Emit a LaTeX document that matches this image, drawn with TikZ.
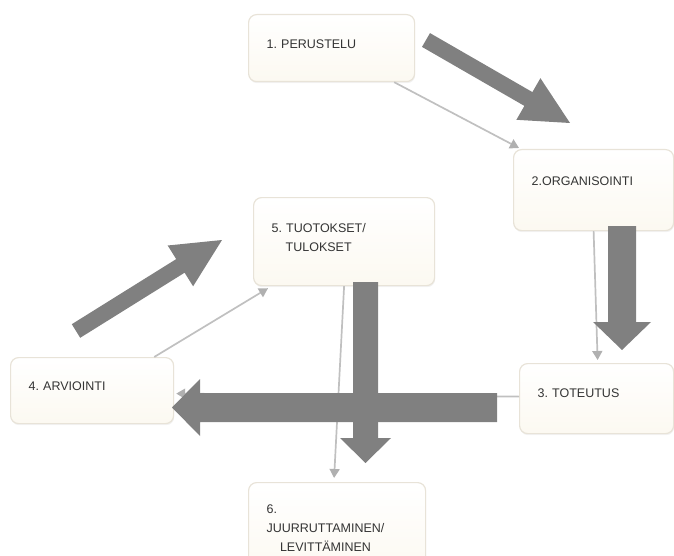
\documentclass[tikz,border=0pt]{standalone}
\usepackage{fontspec}
\setmainfont{Liberation Sans}
\usepackage{tikz}
\usetikzlibrary{arrows.meta,shadows}
\frenchspacing
\definecolor{stagegray}{RGB}{128,128,128}
\definecolor{stageline}{RGB}{192,192,192}
\definecolor{stagetip}{RGB}{176,176,176}
\definecolor{stageedge}{RGB}{232,227,216}
\definecolor{stagecream}{RGB}{252,249,241}
\definecolor{stagetext}{RGB}{52,52,52}
\tikzset{
  stagebox/.style={draw=stageedge, line width=1.2pt, rounded corners=8pt,
    top color=white, middle color=white, bottom color=stagecream,
    drop shadow={opacity=0.10, shadow xshift=0.6pt, shadow yshift=-1.6pt},
    anchor=north west, align=left, inner xsep=18pt, inner ysep=0pt,
    font=\fontsize{12.5}{19}\selectfont, text=stagetext},
  thinlink/.style={draw=stageline, line width=1.7pt,
    -{Triangle[width=10pt,length=9pt,color=stagetip,fill=stagetip]}},
  bigarrow/.style={fill=stagegray}
}

\begin{document}
\begin{tikzpicture}[x=1pt, y=-1pt]

  \useasboundingbox (0,0) rectangle (674,556);

  % Stages
  \node[stagebox, text width=130pt, text height=33.5pt, text depth=33.5pt]
    (perustelu) at (248,14) {1. PERUSTELU};
  \node[stagebox, text width=124pt, text height=35.5pt, text depth=45.5pt]
    (organisointi) at (513,149) {2.ORGANISOINTI};
  \node[stagebox, text width=118pt, text height=33.5pt, text depth=36.5pt]
    (toteutus) at (519,363) {3. TOTEUTUS};
  \node[stagebox, text width=127pt, text height=32.5pt, text depth=33.5pt]
    (arviointi) at (10,357) {4. ARVIOINTI};
  \node[stagebox, text width=145pt, text height=34.5pt, text depth=53.5pt]
    (tuotokset) at (253,197)
    {\begin{tabular}[t]{@{}c@{}}5. TUOTOKSET/\\TULOKSET\end{tabular}};
  \node[stagebox, text width=141pt, text height=30.5pt, text depth=61.5pt]
    (juurruttaminen) at (248,482)
    {6.\\\begin{tabular}[t]{@{}c@{}}JUURRUTTAMINEN/\\LEVITTÄMINEN\end{tabular}};

  % Thin links between stages
  \draw[thinlink] ([xshift=-21pt]perustelu.south east)
    -- ([xshift=6pt,yshift=1pt]organisointi.north west);
  \draw[thinlink] (organisointi.south)
    -- ([xshift=1pt,yshift=3pt]toteutus.north);
  \draw[thinlink] ([yshift=2pt]toteutus.west)
    -- ([xshift=2pt,yshift=-3pt]arviointi.east);
  \draw[thinlink] ([xshift=-20pt]arviointi.north east)
    -- ([xshift=15pt,yshift=-2pt]tuotokset.south west);
  \draw[thinlink] (tuotokset.south)
    -- ([xshift=-3pt,yshift=4pt]juurruttaminen.north);

  % Big arrow 1 -> 2
  \fill[bigarrow]
    (422,46.9) -- (524.4,105.9) -- (516.4,119.8) -- (570,123)
    -- (540.4,78.2) -- (532.4,92.1) -- (430,33.1) -- cycle;

  % Big arrow 2 -> 3
  \fill[bigarrow]
    (608,226) -- (608,322) -- (593,322) -- (622,350)
    -- (651,322) -- (636,322) -- (636,226) -- cycle;

  % Big arrow 3 -> 4
  \fill[bigarrow]
    (497,393) -- (200,393) -- (200,379) -- (172,407.5)
    -- (200,436) -- (200,422) -- (497,422) -- cycle;

  % Big arrow 4 -> 5
  \fill[bigarrow]
    (80.2,337.8) -- (184.6,272.7) -- (193.1,286.3) -- (222,240)
    -- (167.7,245.5) -- (176.2,259.1) -- (71.8,324.2) -- cycle;

  % Big arrow 5 -> 6
  \fill[bigarrow]
    (353,282) -- (353,438) -- (340,438) -- (365.5,463)
    -- (391,438) -- (378,438) -- (378,282) -- cycle;

\end{tikzpicture}
\end{document}
